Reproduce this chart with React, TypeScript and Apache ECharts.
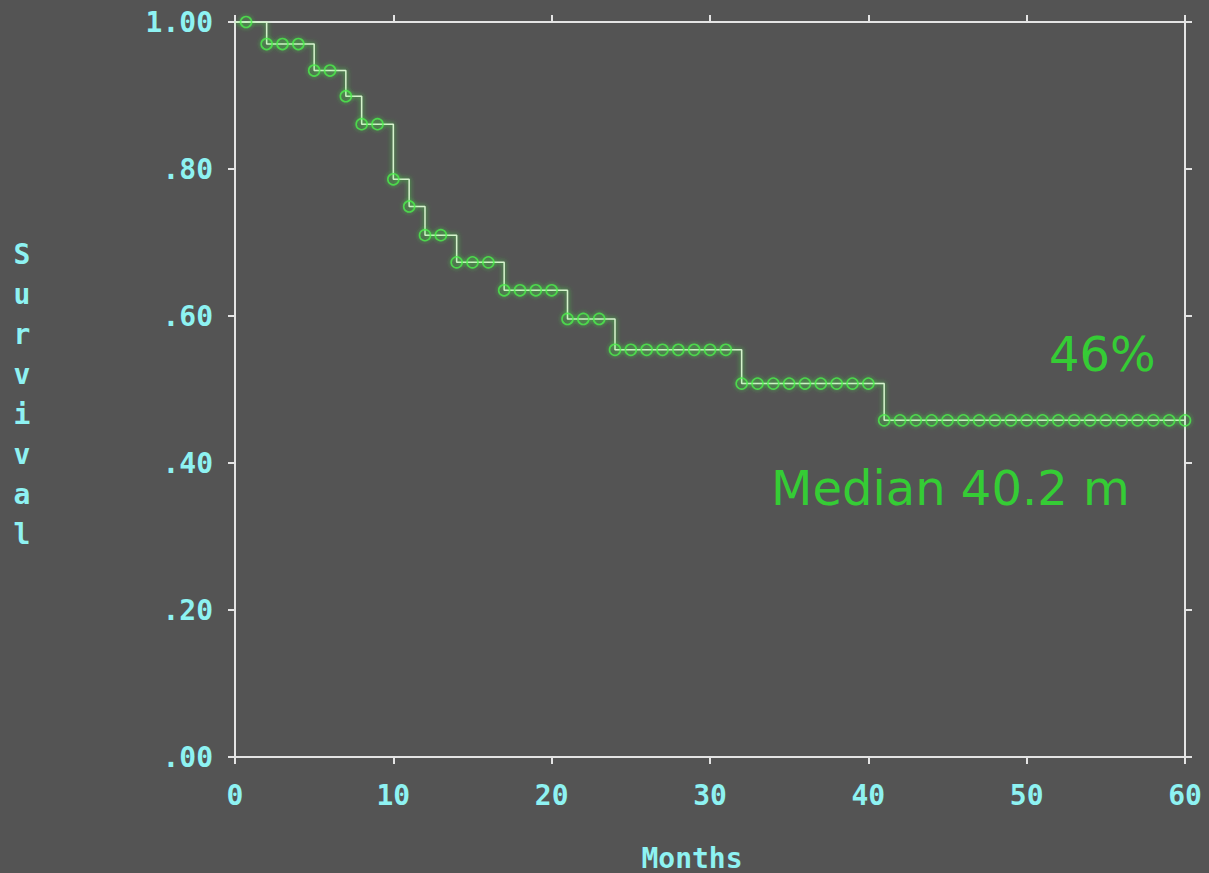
import React, { useEffect, useRef } from "react";
import * as echarts from "echarts";

// Kaplan-Meier step curve: times of drops and survival after each drop
const stepTimes = [0, 2, 5, 7, 8, 10, 11, 12, 14, 17, 21, 24, 32, 41, 60];
const stepValues = [1.0, 0.97, 0.934, 0.899, 0.861, 0.786, 0.749, 0.71, 0.673, 0.635, 0.596, 0.554, 0.508, 0.458, 0.458];

// censored observations (circle markers)
const censorTimes = [
  0.7, 2, 3, 4, 5, 6, 7, 8, 9, 10, 11, 12, 13, 14, 15, 16, 17, 18, 19, 20, 21, 22, 23,
  24, 25, 26, 27, 28, 29, 30, 31,
  32, 33, 34, 35, 36, 37, 38, 39, 40,
  41, 42, 43, 44, 45, 46, 47, 48, 49, 50, 51, 52, 53, 54, 55, 56, 57, 58, 59, 60,
];

const xTicks = { min: 0, max: 60, interval: 10 };
const yTicks = { min: 0, max: 1, interval: 0.2 };

const annotationSurvival = "46%";
const annotationMedian = "Median 40.2 m";
const xAxisTitle = "Months";
const yAxisTitle = "Survival";

function survivalAt(t: number): number {
  let v = stepValues[0];
  for (let i = 0; i < stepTimes.length; i++) {
    if (stepTimes[i] <= t) v = stepValues[i];
  }
  return v;
}

const CYAN = "#8ef2f2";
const AXIS = "#e4e4e4";
const GREEN = "#35cc35";
const MONO = "'DejaVu Sans Mono', 'Liberation Mono', monospace";

export default function App() {
  const ref = useRef<HTMLDivElement>(null);
  useEffect(() => {
    document.body.style.margin = "0";
    document.body.style.background = "#545454";
    if (!ref.current) return;
    const chart = echarts.init(ref.current, undefined, { renderer: "svg" });
    const axisLine = { show: true, onZero: false, lineStyle: { color: AXIS, width: 2 } };
    const axisTick = { show: true, length: 7, inside: false, lineStyle: { color: AXIS, width: 2 } };
    const labelStyle = {
      color: CYAN,
      fontFamily: MONO,
      fontWeight: "bold" as const,
      fontSize: 28,
    };
    const stepData = stepTimes.map((t, i) => [t, stepValues[i]]);
    const censorData = censorTimes.map((t) => [t, survivalAt(t)]);
    chart.setOption({
      animation: false,
      backgroundColor: "#545454",
      grid: { left: 235, right: 24, top: 22, bottom: 116, containLabel: false, outerBoundsMode: "none" },
      xAxis: [
        {
          type: "value",
          position: "bottom",
          ...xTicks,
          axisLine,
          axisTick,
          splitLine: { show: false },
          axisLabel: { ...labelStyle, margin: 24 },
        },
        {
          type: "value",
          position: "top",
          ...xTicks,
          axisLine,
          axisTick,
          splitLine: { show: false },
          axisLabel: { show: false },
        },
      ],
      yAxis: [
        {
          type: "value",
          position: "left",
          ...yTicks,
          axisLine,
          axisTick,
          splitLine: { show: false },
          axisLabel: {
            ...labelStyle,
            margin: 22,
            formatter: (v: number) => {
              if (Math.abs(v - 1) < 1e-9) return "1.00";
              return "." + String(Math.round(v * 100)).padStart(2, "0");
            },
          },
        },
        {
          type: "value",
          position: "right",
          ...yTicks,
          axisLine,
          axisTick,
          splitLine: { show: false },
          axisLabel: { show: false },
        },
      ],
      graphic: [
        {
          type: "text",
          x: 22,
          y: 234,
          style: {
            text: yAxisTitle.split("").join("\n"),
            fill: CYAN,
            font: `bold 28px ${MONO}`,
            lineHeight: 40,
            align: "center",
            verticalAlign: "top",
          },
        },
        {
          type: "text",
          x: 692,
          y: 858,
          style: {
            text: xAxisTitle,
            fill: CYAN,
            font: `bold 28px ${MONO}`,
            align: "center",
            verticalAlign: "middle",
          },
        },
        {
          type: "text",
          x: 1049,
          y: 354,
          style: {
            text: annotationSurvival,
            fill: GREEN,
            font: "48px 'DejaVu Sans', sans-serif",
            verticalAlign: "middle",
            align: "left",
          },
        },
        {
          type: "text",
          x: 771,
          y: 488,
          style: {
            text: annotationMedian,
            fill: GREEN,
            font: "48px 'DejaVu Sans', sans-serif",
            verticalAlign: "middle",
            align: "left",
          },
        },
      ],
      series: [
        {
          type: "line",
          step: "end",
          data: stepData,
          showSymbol: false,
          symbol: "none",
          lineStyle: {
            color: "#d4f4cc",
            width: 1.5,
            shadowColor: "rgba(60,255,60,0.9)",
            shadowBlur: 5,
          },
          z: 2,
        },
        {
          type: "scatter",
          data: censorData,
          symbol: "circle",
          symbolSize: 11,
          itemStyle: {
            color: "rgba(0,0,0,0)",
            borderColor: "#4cf04c",
            borderWidth: 1.6,
            shadowColor: "rgba(60,255,60,0.8)",
            shadowBlur: 4,
          },
          z: 3,
        },
      ],
    });
    return () => chart.dispose();
  }, []);
  return <div ref={ref} style={{ width: 1209, height: 873 }} />;
}
